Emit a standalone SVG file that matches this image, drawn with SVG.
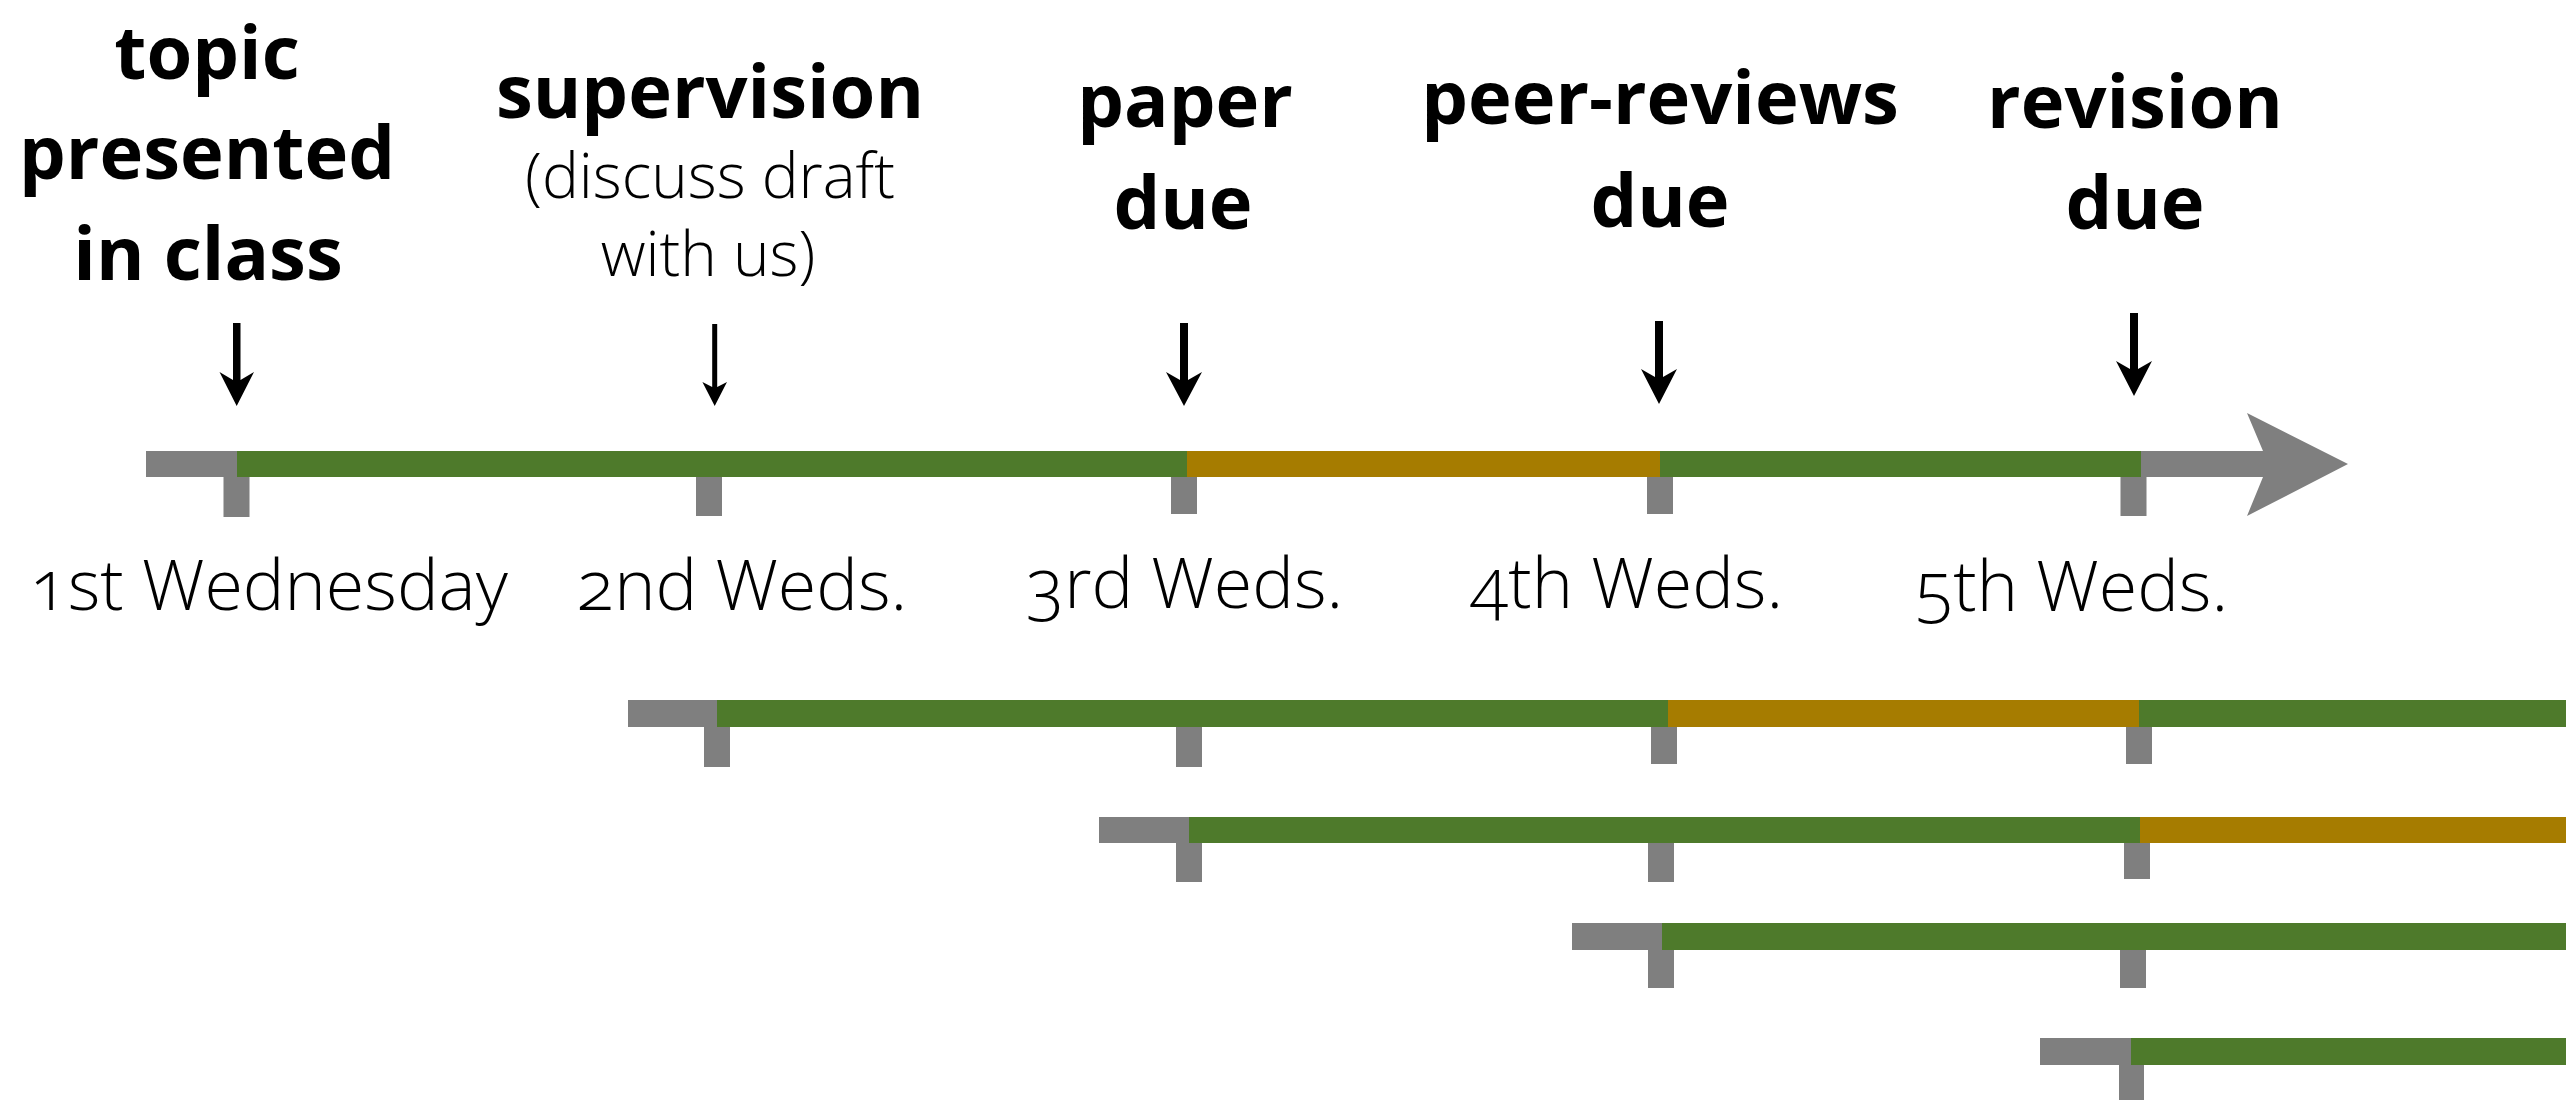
<svg xmlns="http://www.w3.org/2000/svg" width="2566" height="1100" viewBox="0 0 2566 1100">
<style>
.bold{font-family:"Open Sans","Noto Sans",sans-serif;font-weight:700;font-size:74px;fill:#000;text-anchor:middle}
.light{font-family:"Open Sans","Noto Sans",sans-serif;font-weight:300;font-size:62px;fill:#000;text-anchor:middle}
.date{font-family:"Open Sans","Noto Sans",sans-serif;font-weight:300;font-size:70px;fill:#000;text-anchor:middle;font-variant-numeric:oldstyle-nums;font-feature-settings:"onum" 1}
.grey{fill:#7f7f7f}
.green{fill:#4e7a2b}
.gold{fill:#a67c00}
.ar{fill:#000}
</style>
<rect width="2566" height="1100" fill="#fff"/>

<g id="label-topic">
<text class="bold" x="207" y="79">topic</text>
<text class="bold" x="207" y="179">presented</text>
<text class="bold" x="208" y="280">in class</text>
</g>
<g id="label-supervision">
<text class="bold" x="710" y="118">supervision</text>
<text class="light" x="710" y="198">(discuss draft</text>
<text class="light" x="708" y="276">with us)</text>
</g>
<g id="label-paper">
<text class="bold" x="1185" y="127">paper</text>
<text class="bold" x="1183" y="229">due</text>
</g>
<g id="label-peer">
<text class="bold" x="1660" y="124">peer-reviews</text>
<text class="bold" x="1660" y="227">due</text>
</g>
<g id="label-revision">
<text class="bold" x="2135" y="128">revision</text>
<text class="bold" x="2135" y="229">due</text>
</g>

<g id="connectors">
<polygon class="ar" points="233,323 240.5,323 240.5,380 254,372 236.7,406 219.5,372 233,380"/>
<polygon class="ar" points="712.2,324 717.2,324 717.2,387 727,382 714.7,406 702.4,382 712.2,387"/>
<polygon class="ar" points="1180,323 1188,323 1188,380 1202,372 1184,406 1166,372 1180,380"/>
<polygon class="ar" points="1655,321 1663,321 1663,377 1677,369 1659,404 1641,369 1655,377"/>
<polygon class="ar" points="2130,313 2138,313 2138,369 2152,361 2134,396 2116,361 2130,369"/>
</g>

<g id="timeline-main">
<rect class="grey" x="146" y="451" width="2119" height="26"/>
<polygon class="grey" points="2263,451 2247,413 2348,464 2247,516 2263,477"/>
<rect class="green" x="237" y="451" width="950" height="26"/>
<rect class="gold" x="1187" y="451" width="473" height="26"/>
<rect class="green" x="1660" y="451" width="481" height="26"/>
<rect class="grey" x="223.5" y="477" width="26" height="40"/>
<rect class="grey" x="696" y="477" width="26" height="39"/>
<rect class="grey" x="1171" y="477" width="26" height="37"/>
<rect class="grey" x="1647" y="477" width="26" height="37"/>
<rect class="grey" x="2120.5" y="477" width="26" height="39"/>
</g>

<g id="dates">
<text class="date" x="269" y="610">1st Wednesday</text>
<text class="date" x="742" y="610">2nd Weds.</text>
<text class="date" x="1185" y="608">3rd Weds.</text>
<text class="date" x="1627" y="608">4th Weds.</text>
<text class="date" x="2072" y="611">5th Weds.</text>
</g>

<g id="timeline-2">
<rect class="grey" x="628" y="700" width="90" height="27"/>
<rect class="green" x="717" y="700" width="951" height="27"/>
<rect class="gold" x="1668" y="700" width="471" height="27"/>
<rect class="green" x="2139" y="700" width="427" height="27"/>
<rect class="grey" x="704" y="727" width="26" height="40"/>
<rect class="grey" x="1176" y="727" width="26" height="40"/>
<rect class="grey" x="1651" y="727" width="26" height="37"/>
<rect class="grey" x="2126" y="727" width="26" height="37"/>
</g>

<g id="timeline-3">
<rect class="grey" x="1099" y="817" width="91" height="26"/>
<rect class="green" x="1189" y="817" width="951" height="26"/>
<rect class="gold" x="2140" y="817" width="426" height="26"/>
<rect class="grey" x="1176" y="843" width="26" height="39"/>
<rect class="grey" x="1648" y="843" width="26" height="39"/>
<rect class="grey" x="2124" y="843" width="26" height="36"/>
</g>

<g id="timeline-4">
<rect class="grey" x="1572" y="923" width="91" height="27"/>
<rect class="green" x="1662" y="923" width="904" height="27"/>
<rect class="grey" x="1648" y="950" width="26" height="38"/>
<rect class="grey" x="2120" y="950" width="26" height="38"/>
</g>

<g id="timeline-5">
<rect class="grey" x="2040" y="1038" width="92" height="27"/>
<rect class="green" x="2131" y="1038" width="435" height="27"/>
<rect class="grey" x="2119" y="1065" width="25" height="35"/>
</g>
</svg>
